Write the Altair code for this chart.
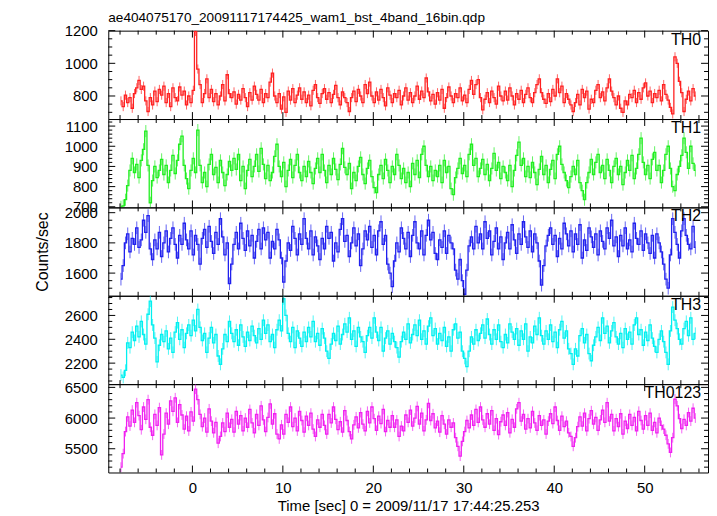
import altair as alt
import pandas as pd

TITLE = "ae404075170_20091117174425_wam1_bst_4band_16bin.qdp"
X_TITLE = "Time [sec] 0 = 2009/11/17 17:44:25.253"
Y_TITLE = "Counts/sec"
T_START = -7.9
BIN = 0.25

th0 = [770, 735, 805, 760, 790, 725, 815, 850, 895, 840,
       860, 770, 705, 790, 745, 830, 765, 840, 805, 860,
       760, 815, 735, 850, 790, 770, 855, 805, 830, 745,
       800, 760, 835, 1195, 965, 870, 760, 815, 905, 790,
       840, 765, 815, 745, 800, 870, 770, 930, 815, 790,
       825, 750, 810, 775, 845, 790, 735, 820, 775, 860,
       810, 775, 840, 760, 815, 790, 885, 940, 800, 760,
       815, 720, 795, 700, 830, 775, 845, 760, 805, 850,
       780, 825, 760, 805, 740, 835, 870, 790, 755, 815,
       845, 780, 820, 760, 810, 865, 790, 745, 825, 790,
       760, 705, 790, 830, 765, 840, 800, 760, 870, 815,
       885, 800, 760, 825, 775, 840, 790, 740, 850, 805,
       760, 815, 790, 835, 745, 800, 850, 775, 820, 760,
       800, 860, 780, 830, 790, 910, 825, 770, 810, 750,
       820, 775, 840, 725, 790, 855, 800, 760, 815, 790,
       850, 770, 805, 760, 840, 895, 810, 870, 900, 790,
       715, 780, 820, 760, 830, 790, 750, 860, 800, 770,
       830, 775, 850, 800, 745, 815, 780, 835, 760, 810,
       850, 790, 760, 820, 870, 905, 820, 780, 755, 815,
       765, 840, 800, 905, 820, 860, 760, 815, 780, 745,
       705, 760, 810, 745, 840, 790, 830, 720, 780, 760,
       835, 870, 790, 825, 770, 850, 905, 830, 790, 745,
       800, 725, 700, 770, 745, 810, 790, 835, 760, 820,
       780, 850, 880, 800, 830, 760, 815, 790, 835, 770,
       870, 810, 775, 730, 690, 1040, 1000, 890, 820, 705,
       780, 830, 770, 845, 800]

th1 = [700, 705, 735, 805, 880, 940, 870, 910, 845, 930,
       985, 1075, 905, 720, 830, 900, 845, 880, 935, 860,
       905, 820, 880, 955, 865, 930, 1010, 1050, 905, 840,
       790, 880, 940, 870, 1080, 905, 820, 870, 800, 910,
       960, 860, 895, 820, 930, 870, 805, 860, 925, 880,
       940, 885, 960, 830, 900, 790, 880, 935, 850, 900,
       960, 875, 990, 910, 840, 905, 830, 870, 950, 1010,
       900, 850, 920, 800, 880, 935, 845, 905, 960, 870,
       830, 900, 850, 925, 870, 815, 890, 940, 870, 960,
       880, 820, 905, 860, 940, 885, 835, 910, 990, 895,
       860, 915, 790, 870, 830, 900, 945, 860, 815, 890,
       930, 850, 795, 770, 860, 905, 840, 935, 880, 820,
       900, 860, 960, 905, 840, 890, 820, 870, 800, 915,
       860, 930, 845, 960, 1000, 905, 850, 900, 830, 880,
       850, 905, 820, 930, 870, 900, 790, 760, 845, 890,
       940, 865, 905, 850, 960, 1010, 905, 940, 850, 890,
       935, 860, 910, 830, 890, 965, 880, 920, 840, 900,
       870, 830, 905, 800, 880, 955, 1020, 905, 940, 850,
       900, 845, 920, 870, 810, 885, 950, 860, 905, 820,
       885, 930, 840, 960, 1000, 910, 870, 830, 795, 850,
       900, 860, 930, 820, 780, 735, 820, 870, 935, 860,
       920, 960, 870, 905, 840, 935, 880, 820, 900, 940,
       860, 900, 810, 870, 930, 880, 955, 840, 890, 960,
       1040, 920, 860, 905, 840, 935, 970, 880, 905, 820,
       880, 960, 1000, 890, 800, 780, 860, 900, 955, 1040,
       970, 890, 1000, 915, 880]

th2 = [1560, 1650, 1800, 1860, 1740, 1830, 1790, 1900, 1770, 1820,
       1950, 1870, 1980, 1760, 1690, 1820, 1760, 1870, 1710, 1800,
       1880, 1740, 1830, 1900, 1790, 1700, 1850, 1790, 1930, 1820,
       1760, 1880, 1720, 1850, 1790, 1660, 1830, 1890, 1770, 1910,
       1810, 1730, 1870, 1790, 1960, 1840, 1720, 1800, 1530, 1660,
       1790, 1870, 1760, 1930, 1830, 1750, 1880, 1780, 1850, 1700,
       1810, 1890, 1760, 1900, 1820, 1870, 1700, 1810, 1760, 1890,
       1820, 1700, 1540, 1680, 1800, 1750, 1910, 1830, 1720, 1860,
       1790, 1960, 1830, 1760, 1880, 1720, 1840, 1780, 1690, 1830,
       1760, 1910, 1830, 1870, 1680, 1800, 1740, 1890, 1960, 1810,
       1850, 1710, 1800, 1900, 1780, 1860, 1650, 1760, 1880, 1820,
       1910, 1770, 1850, 1720, 1880, 1940, 1790, 1850, 1660, 1600,
       1510, 1680, 1800, 1740, 1900, 1830, 1760, 1870, 1710, 1850,
       1940, 1800, 1760, 1880, 1720, 1850, 1950, 1820, 1870, 1730,
       1690, 1820, 1770, 1880, 1730, 1850, 1800, 1760, 1620, 1560,
       1690, 1550, 1460, 1620, 1780, 1840, 1760, 1910, 1800, 1860,
       1760, 1940, 1830, 1880, 1720, 1810, 1900, 1760, 1840, 1690,
       1800, 1870, 1760, 1920, 1820, 1730, 1860, 1790, 1940, 1840,
       1770, 1880, 1740, 1860, 1800, 1680, 1520, 1650, 1780, 1850,
       1900, 1790, 1850, 1710, 1830, 1760, 1930, 1860, 1780, 1880,
       1740, 1860, 1790, 1920, 1700, 1820, 1750, 1900, 1840, 1770,
       1860, 1720, 1880, 1810, 1760, 1900, 1830, 1950, 1780, 1840,
       1710, 1850, 1780, 1900, 1760, 1820, 1740, 1930, 1830, 1790,
       1880, 1750, 1860, 1800, 1730, 1850, 1700, 1860, 1800, 1740,
       1660, 1560, 1500, 1720, 1960, 1870, 1790, 1700, 1880, 1960,
       1850, 1790, 1760, 1910, 1770]

th3 = [2100, 2080, 2140, 2370, 2330, 2460, 2390, 2510, 2420, 2550,
       2440, 2360, 2610, 2720, 2520, 2410, 2210, 2350, 2440, 2380,
       2470, 2320, 2410, 2290, 2460, 2540, 2400, 2480, 2330, 2450,
       2520, 2430, 2560, 2470, 2650, 2500, 2390, 2450, 2290, 2410,
       2500, 2370, 2440, 2260, 2190, 2320, 2440, 2380, 2550, 2450,
       2380, 2480, 2350, 2520, 2420, 2340, 2460, 2390, 2510, 2430,
       2370, 2490, 2400, 2560, 2450, 2520, 2380, 2440, 2330, 2480,
       2560, 2470, 2740, 2600, 2450, 2380, 2500, 2330, 2470, 2410,
       2340, 2460, 2380, 2500, 2420, 2550, 2380, 2450, 2350, 2490,
       2410, 2300, 2240, 2360, 2450, 2390, 2510, 2360, 2440, 2530,
       2460, 2580, 2400, 2470, 2340, 2500, 2420, 2380, 2290, 2430,
       2500, 2410, 2580, 2460, 2390, 2500, 2300, 2410, 2470, 2360,
       2450, 2380, 2330, 2250, 2380, 2460, 2400, 2530, 2370, 2440,
       2520, 2430, 2560, 2400, 2470, 2360, 2510, 2580, 2430, 2490,
       2360, 2450, 2390, 2500, 2340, 2420, 2300, 2480, 2530, 2410,
       2460, 2300, 2240, 2170, 2300, 2420, 2360, 2480, 2390, 2450,
       2520, 2410, 2570, 2440, 2360, 2480, 2400, 2520, 2380, 2330,
       2440, 2370, 2530, 2460, 2400, 2490, 2350, 2470, 2400, 2530,
       2300, 2420, 2370, 2510, 2440, 2580, 2430, 2360, 2470, 2400,
       2520, 2380, 2460, 2330, 2480, 2550, 2410, 2470, 2320, 2280,
       2190, 2320, 2260, 2430, 2490, 2370, 2440, 2280, 2220, 2350,
       2420, 2500, 2390, 2580, 2450, 2510, 2370, 2470, 2540, 2420,
       2360, 2450, 2330, 2490, 2400, 2460, 2360, 2520, 2580, 2440,
       2480, 2350, 2460, 2390, 2520, 2410, 2340, 2290, 2400, 2470,
       2380, 2290, 2190, 2470, 2670, 2560, 2490, 2400, 2360, 2490,
       2550, 2430, 2580, 2400, 2450]

th0123 = [5200, 5420, 5780, 6020, 5870, 6130, 5930, 6250, 6040, 5810,
          6180, 5980, 6300, 5850, 5720, 6060, 5880, 6170, 5400, 5740,
          6080, 5900, 6280, 6110, 6330, 5930, 6220, 6050, 5820, 6030,
          5790, 6100, 5950, 6470, 6300, 6060, 5860, 6000, 5770, 6150,
          5950, 5760, 5930, 5590, 5700, 5920, 5780, 6080, 5850, 5980,
          5770, 6110, 5900, 6040, 5790, 6000, 5850, 6140, 5920, 5760,
          6060, 5880, 6200, 5970, 5780, 6010, 6230, 5900, 6070, 5740,
          5660, 5890, 5740, 6060, 5930, 6180, 5860, 6000, 5790, 6110,
          5960, 5770, 6030, 5880, 6080, 5820, 5700, 5970, 5850, 6060,
          5880, 5740, 6060, 5920, 6180, 5980, 5810, 5940, 5770, 6120,
          5960, 5780, 5660, 5890, 6020, 5840, 6090, 5900, 5790, 6110,
          5920, 6180, 5990, 5800, 6030, 5910, 6140, 5780, 5960, 5850,
          6040, 5850, 5970, 5700, 5870, 5790, 6050, 5930, 6130, 5870,
          6000, 6190, 5900, 6080, 5790, 5970, 6240, 5960, 6070, 5840,
          5950, 5770, 6040, 5900, 5740, 5970, 5850, 5920, 5680, 5540,
          5380, 5620, 5780, 5960, 5840, 6050, 5880, 6140, 5930, 6180,
          5970, 5850, 6070, 5900, 6120, 5800, 5990, 5730, 5940, 6050,
          5880, 6090, 5760, 5980, 5850, 6150, 6250, 5950, 6060, 5820,
          5990, 5840, 6110, 5920, 5800, 6040, 5880, 5970, 5740, 5950,
          6070, 5910, 6180, 5960, 5800, 6030, 5860, 5950, 5760, 5700,
          5540, 5680, 5860, 6020, 5870, 6080, 5790, 5990, 6120, 5900,
          6010, 5800, 5970, 6130, 5930, 6250, 5950, 6060, 5790, 5990,
          5860, 6070, 5740, 5950, 5830, 6060, 5880, 6010, 5790, 6110,
          5960, 5820, 6040, 5880, 6080, 5800, 5930, 5760, 6000, 5880,
          5820, 5720, 5580, 5440, 5680, 6310, 6200, 5990, 5830, 5980,
          5880, 6090, 5950, 6160, 6000]

names = ["TH0", "TH1", "TH2", "TH3", "TH0123"]
series = [th0, th1, th2, th3, th0123]
errors = [28, 30, 42, 50, 80]
colors = ["#ff2020", "#20ee20", "#2020ee", "#00f0f0", "#f020f0"]
y_domains = [[659, 1200], [697, 1135], [1450, 2035], [2024, 2765], [5113, 6553]]
y_major = [[800, 1000, 1200], [700, 800, 900, 1000, 1100], [1600, 1800, 2000],
           [2200, 2400, 2600], [5500, 6000, 6500]]
y_minor_step = [50, 20, 50, 50, 100]
x_domain = [-9.3, 57.0]
x_major = [0, 10, 20, 30, 40, 50]
x_minor_step = 2

FONT = "Liberation Sans"
W, H = 604, 89
MAJ, MIN = 7, 4


def minor_values(dom, step, majors):
    out = []
    v = (int(dom[0] // step) + 1) * step
    while v < dom[1]:
        if v not in majors:
            out.append(v)
        v += step
    return out


def panel(k):
    vals = series[k]
    df = pd.DataFrame({"t": [T_START + BIN * i for i in range(len(vals))], "v": vals})
    df["lo"] = df["v"] - errors[k]
    df["hi"] = df["v"] + errors[k]
    xs = alt.Scale(domain=x_domain, nice=False, zero=False)
    ys = alt.Scale(domain=y_domains[k], nice=False, zero=False)
    last = k == len(series) - 1

    if last:
        xaxis = alt.Axis(values=x_major, format="d", ticks=False, domain=False, grid=False,
                         labelFont=FONT, labelFontSize=15, labelPadding=8,
                         labelColor="black", title=X_TITLE, titleFont=FONT,
                         titleFontSize=15, titleFontWeight="normal",
                         titlePadding=3, titleColor="black")
    else:
        xaxis = None

    yargs = dict(values=y_major[k], format="d", ticks=False, domain=False, grid=False,
                 labelFont=FONT, labelFontSize=15, labelPadding=11,
                 labelColor="black", labelOverlap=False)
    if k == 2:
        yaxis = alt.Axis(title=Y_TITLE, titleFont=FONT, titleFontSize=16,
                         titleFontWeight="normal", titleColor="black",
                         titleAngle=270, titleAlign="center", titleBaseline="bottom",
                         titleX=-58, titleY=H / 2, **yargs)
    else:
        yaxis = alt.Axis(title=None, **yargs)

    def X(f):
        return alt.X(f, type="quantitative", scale=xs, axis=xaxis)

    def Y(f):
        return alt.Y(f, type="quantitative", scale=ys, axis=yaxis)

    base = alt.Chart(df)
    bars = base.mark_rule(color=colors[k], opacity=0.7, strokeWidth=1, clip=True).encode(
        x=X("t"), y=Y("lo"), y2="hi")
    line = base.mark_line(color=colors[k], interpolate="step", strokeWidth=1.3, clip=True).encode(
        x=X("t"), y=Y("v"))

    ymaj = alt.Chart(pd.DataFrame({"val": y_major[k]}))
    ymin = alt.Chart(pd.DataFrame({"val": minor_values(y_domains[k], y_minor_step[k], y_major[k])}))
    xmaj = alt.Chart(pd.DataFrame({"val": x_major}))
    xmin = alt.Chart(pd.DataFrame({"val": minor_values(x_domain, x_minor_step, x_major)}))

    tick_layers = []
    for src, ln in ((ymaj, MAJ), (ymin, MIN)):
        tick_layers.append(src.mark_rule(color="black", strokeWidth=1).encode(
            y=Y("val"), x=alt.value(0), x2=alt.value(ln)))
        tick_layers.append(src.mark_rule(color="black", strokeWidth=1).encode(
            y=Y("val"), x=alt.value(W - ln), x2=alt.value(W)))
    for src, ln in ((xmaj, MAJ), (xmin, MIN)):
        tick_layers.append(src.mark_rule(color="black", strokeWidth=1).encode(
            x=X("val"), y=alt.value(0), y2=alt.value(ln)))
        tick_layers.append(src.mark_rule(color="black", strokeWidth=1).encode(
            x=X("val"), y=alt.value(H - ln), y2=alt.value(H)))

    label = alt.Chart(pd.DataFrame({"lab": [names[k]]})).mark_text(
        align="right", baseline="top", font=FONT, fontSize=16, color="black").encode(
        x=alt.value(W - 7), y=alt.value(1), text="lab:N")

    return alt.layer(bars, line, *tick_layers, label).properties(width=W, height=H)


chart = alt.vconcat(*[panel(k) for k in range(len(series))], spacing=0, bounds="flush").properties(
    title=alt.TitleParams(TITLE, anchor="start", frame="group", font=FONT, fontSize=13.7,
                          fontWeight="normal", color="black", offset=-1),
    padding={"left": 26, "top": 0, "right": 0, "bottom": 0},
).configure_view(stroke="black", strokeWidth=1)

chart.save("out.html", embed_options={"renderer": "svg", "actions": False})
